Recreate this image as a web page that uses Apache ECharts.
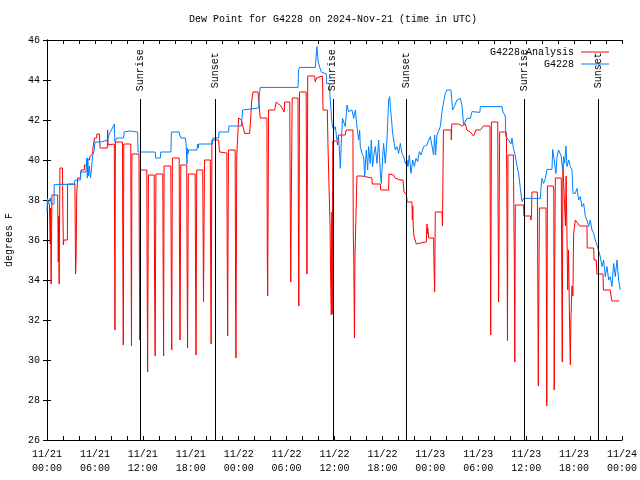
<!DOCTYPE html>
<html><head><meta charset="utf-8">
<script src="https://cdn.jsdelivr.net/npm/echarts@6/dist/echarts.min.js"></script>
<style>html,body{margin:0;padding:0;background:#fff}#c{width:640px;height:480px}</style>
</head><body><div id="c"></div>
<script>
// ---------- data ----------
const titleText = 'Dew Point for G4228 on 2024-Nov-21 (time in UTC)';
const yAxisName = 'degrees F';
// x ticks every 6 hours from 2024-11-21 00:00 UTC (x values are hours since then)
const xTickLabels = ['11/21\n00:00','11/21\n06:00','11/21\n12:00','11/21\n18:00',
  '11/22\n00:00','11/22\n06:00','11/22\n12:00','11/22\n18:00',
  '11/23\n00:00','11/23\n06:00','11/23\n12:00','11/23\n18:00','11/24\n00:00'];
const analysisName = 'G4228 Analysis';
const obsName = 'G4228';
// sun events: [label, hours since 11/21 00:00]
const sunEvents = [['Sunrise',11.68],['Sunset',21.11],['Sunrise',35.79],['Sunset',45.03],['Sunrise',59.80],['Sunset',69.07]];
// analysis dew point [hours, degF]
const analysis = [[0.00,37.9],[0.30,37.8],[0.38,37.8],[0.41,35.8],[0.45,37.6],[0.52,33.8],[0.62,38.25],[1.33,38.25],[1.36,37.2],[1.41,34.9],[1.46,37.2],[1.52,33.8],[1.62,39.6],[1.94,39.6],[1.98,37.7],[2.05,35.75],[2.12,36.0],[2.55,36.0],[2.58,38.8],[3.50,38.8],[3.53,36.8],[3.58,34.3],[3.65,35.2],[3.72,38.25],[3.84,39.1],[4.20,39.1],[4.25,39.5],[4.67,39.5],[4.70,39.75],[5.00,39.75],[5.03,40.0],[5.30,40.0],[5.40,40.2],[5.71,40.3],[5.75,40.6],[5.92,40.6],[5.95,41.1],[6.21,41.1],[6.25,41.3],[6.55,41.3],[6.65,40.6],[7.55,40.6],[7.59,41.5],[7.65,40.75],[8.43,40.8],[8.46,36.25],[8.51,31.5],[8.56,40.9],[9.45,40.9],[9.49,35.8],[9.55,30.75],[9.62,40.8],[10.49,40.8],[10.53,35.5],[10.58,30.7],[10.63,40.3],[11.52,40.3],[11.56,35.3],[11.62,31.0],[11.68,39.5],[12.50,39.5],[12.54,34.3],[12.60,29.4],[12.70,39.25],[13.42,39.25],[13.46,34.75],[13.54,30.2],[13.64,39.3],[14.50,39.3],[14.54,34.9],[14.60,30.2],[14.66,39.7],[15.50,39.7],[15.55,35.3],[15.62,30.5],[15.70,40.1],[16.55,40.1],[16.59,35.3],[16.66,31.0],[16.75,39.75],[17.50,39.75],[17.54,34.9],[17.60,30.6],[17.70,39.3],[18.55,39.3],[18.59,34.9],[18.66,30.25],[18.75,39.5],[19.50,39.5],[19.55,36.1],[19.60,32.9],[19.72,40.0],[20.45,40.0],[20.49,35.3],[20.55,30.8],[20.65,41.0],[21.49,41.0],[21.60,40.4],[21.75,40.35],[22.52,40.35],[22.56,35.75],[22.62,31.2],[22.72,40.5],[23.56,40.5],[23.60,35.2],[23.66,30.1],[23.76,40.2],[23.95,40.2],[24.00,42.1],[24.12,42.1],[24.33,42.0],[24.75,41.33],[25.37,41.33],[25.50,42.0],[25.62,42.9],[25.79,43.4],[26.42,43.4],[26.55,42.8],[26.70,42.1],[27.54,42.1],[27.58,35.5],[27.63,33.2],[27.75,42.5],[28.50,42.5],[28.70,42.9],[28.92,42.9],[29.30,42.7],[29.55,42.6],[29.70,42.4],[29.76,42.9],[30.40,42.9],[30.45,38.4],[30.52,33.9],[30.60,38.5],[30.70,43.1],[31.43,43.1],[31.47,37.8],[31.53,32.7],[31.62,43.4],[32.45,43.4],[32.49,39.25],[32.55,34.3],[32.65,44.2],[33.51,44.2],[33.60,43.9],[33.72,44.1],[33.80,44.2],[34.50,44.2],[34.56,42.5],[35.10,42.5],[35.18,40.8],[35.35,40.8],[35.45,36.6],[35.52,34.0],[35.60,32.25],[35.66,37.4],[35.72,32.3],[35.78,40.95],[36.31,40.95],[36.39,40.75],[36.45,40.95],[36.52,41.25],[37.35,41.25],[37.45,41.5],[38.31,41.5],[38.35,36.3],[38.42,35.0],[38.46,32.8],[38.50,31.1],[38.56,35.1],[38.70,35.1],[38.81,39.2],[39.44,39.2],[39.50,39.1],[40.69,39.1],[40.72,38.8],[41.74,38.8],[41.78,38.5],[42.78,38.5],[42.82,39.3],[43.40,39.25],[43.60,39.1],[44.20,39.0],[44.57,39.0],[44.70,38.4],[44.99,38.3],[45.10,37.9],[45.70,37.9],[45.75,37.0],[45.80,37.7],[45.86,36.6],[45.95,36.2],[46.20,36.2],[46.25,35.8],[46.80,35.85],[47.50,35.9],[47.58,36.8],[47.62,36.3],[47.68,36.6],[47.79,36.1],[48.41,36.1],[48.46,34.75],[48.54,33.4],[48.62,37.4],[49.46,37.4],[49.52,36.7],[49.58,36.7],[49.64,41.5],[50.60,41.5],[50.63,41.0],[50.68,41.8],[51.54,41.8],[51.96,41.7],[52.38,41.8],[52.59,41.5],[53.00,41.4],[53.42,41.2],[53.63,41.2],[53.70,41.5],[54.26,41.5],[54.50,41.6],[54.67,41.7],[55.47,41.7],[55.51,36.5],[55.56,31.25],[55.65,41.9],[56.44,41.9],[56.48,37.6],[56.55,32.9],[56.68,41.4],[57.52,41.4],[57.55,40.25],[57.60,37.0],[57.66,30.97],[57.72,40.25],[58.40,40.25],[58.45,37.75],[58.52,35.0],[58.58,29.9],[58.64,37.75],[59.68,37.75],[59.72,37.2],[60.55,37.2],[60.60,37.0],[60.66,37.2],[60.73,38.4],[61.40,38.4],[61.46,33.7],[61.52,28.7],[61.58,33.2],[61.66,37.6],[62.48,37.6],[62.54,33.25],[62.58,27.7],[62.66,38.7],[63.40,38.7],[63.46,38.5],[63.51,28.5],[63.56,33.8],[63.65,39.1],[64.40,39.1],[64.45,34.5],[64.52,29.9],[64.60,39.8],[64.85,39.8],[64.92,36.7],[65.00,39.2],[65.10,36.5],[65.20,33.5],[65.30,35.5],[65.45,31.5],[65.53,29.75],[65.60,32.0],[65.74,33.7],[65.85,33.2],[65.94,36.3],[66.15,37.0],[66.36,37.0],[66.70,36.7],[67.61,36.7],[67.65,35.6],[68.45,35.6],[68.50,35.0],[68.78,35.0],[68.85,34.3],[69.62,34.3],[69.67,33.5],[70.54,33.5],[70.60,33.25],[70.74,32.95],[71.66,32.95]];
// observed dew point [hours, degF]
const observed = [[0.00,37.4],[0.05,38.1],[0.15,37.8],[0.40,38.1],[0.55,37.8],[0.88,37.8],[0.91,38.78],[3.40,38.78],[3.50,39.0],[4.17,39.0],[4.20,39.4],[4.88,39.4],[4.92,39.7],[5.00,40.1],[5.05,39.1],[5.10,40.1],[5.20,39.2],[5.30,39.7],[5.45,39.1],[5.51,39.3],[5.60,39.7],[5.71,40.2],[5.92,40.5],[6.00,40.9],[6.76,40.9],[7.59,41.0],[7.80,41.3],[8.20,41.6],[8.43,41.8],[8.50,40.9],[8.76,41.1],[9.60,41.1],[9.65,41.4],[10.31,41.45],[11.35,41.4],[11.40,40.4],[13.56,40.4],[13.60,40.1],[14.19,40.1],[14.25,40.4],[15.52,40.4],[15.55,40.9],[15.58,41.4],[16.57,41.4],[16.62,41.25],[16.78,41.1],[17.32,41.1],[17.40,40.9],[17.53,39.8],[17.58,40.6],[17.65,40.3],[17.73,40.5],[18.78,40.5],[18.85,40.8],[18.95,40.6],[19.00,40.8],[20.70,40.8],[20.78,41.1],[21.49,41.1],[21.53,41.4],[22.74,41.4],[22.78,41.7],[24.33,41.7],[24.50,42.5],[24.75,42.6],[26.50,42.6],[26.60,43.3],[26.70,43.63],[31.43,43.63],[31.50,44.5],[31.63,44.63],[33.60,44.63],[33.80,45.67],[33.93,45.0],[34.10,44.7],[34.35,44.4],[34.97,44.3],[35.00,43.83],[35.39,43.83],[35.42,43.33],[35.55,43.3],[35.68,41.83],[35.89,41.5],[36.10,41.67],[36.31,41.0],[36.52,41.17],[36.73,39.58],[36.85,40.83],[37.00,42.08],[37.14,42.17],[37.35,41.67],[37.56,42.75],[37.77,42.42],[37.98,42.33],[38.19,42.5],[38.40,42.08],[38.61,42.5],[38.81,41.67],[39.02,41.0],[39.15,41.5],[39.23,40.67],[39.44,40.33],[39.65,40.17],[39.78,39.17],[39.98,40.5],[40.15,39.5],[40.27,40.67],[40.48,39.83],[40.61,41.0],[40.77,39.67],[40.90,40.17],[41.11,40.67],[41.32,39.83],[41.53,41.0],[41.74,39.33],[41.86,38.83],[42.03,40.17],[42.15,40.83],[42.36,39.83],[42.57,41.0],[42.78,43.0],[42.90,43.17],[42.99,42.67],[43.11,42.17],[43.28,41.33],[43.41,41.0],[43.61,40.5],[43.82,40.67],[44.03,40.33],[44.24,40.83],[44.45,40.33],[44.66,40.17],[44.87,39.83],[45.08,40.0],[45.20,39.67],[45.37,40.25],[45.58,39.33],[45.79,40.0],[46.00,39.67],[46.20,40.08],[46.41,39.92],[46.62,40.42],[46.83,40.25],[47.16,40.67],[47.58,40.75],[47.79,41.0],[48.00,41.17],[48.21,41.25],[48.41,40.25],[48.54,41.25],[48.66,40.25],[48.83,41.25],[49.04,41.25],[49.25,41.67],[49.46,42.42],[49.67,42.92],[49.87,43.33],[50.08,43.5],[50.58,43.5],[50.79,42.5],[51.00,42.67],[51.34,43.0],[51.75,43.08],[51.96,42.75],[52.17,41.75],[52.38,41.83],[52.59,42.08],[53.01,42.08],[53.21,42.42],[54.20,42.38],[54.26,42.67],[56.97,42.67],[57.10,42.4],[57.39,42.2],[57.45,41.17],[57.80,41.0],[58.10,40.8],[58.22,41.1],[58.40,40.6],[58.64,40.2],[58.80,39.8],[59.06,39.3],[59.15,39.0],[59.27,38.58],[59.48,37.92],[59.68,38.08],[61.77,38.08],[61.85,38.58],[61.98,39.08],[62.19,38.83],[62.40,39.08],[62.61,39.53],[63.23,39.53],[63.32,40.53],[63.56,40.53],[63.73,39.33],[63.86,40.17],[64.07,40.5],[64.27,40.53],[64.40,40.17],[64.57,39.5],[64.69,40.17],[64.82,39.83],[64.98,40.7],[65.11,39.67],[65.32,40.0],[65.53,39.67],[65.74,39.5],[65.86,38.33],[66.15,38.33],[66.36,38.58],[66.57,38.0],[66.78,38.17],[66.99,37.67],[67.20,37.83],[67.41,37.17],[67.61,37.0],[67.82,36.67],[68.03,37.0],[68.24,36.5],[68.45,36.33],[68.66,36.0],[68.87,35.75],[69.07,35.67],[69.28,35.17],[69.49,34.67],[69.70,35.0],[69.91,34.17],[70.12,34.67],[70.33,34.0],[70.54,34.17],[70.74,33.67],[70.95,34.83],[71.16,34.17],[71.37,35.0],[71.58,34.0],[71.79,33.5]];

// ---------- chart ----------
const FONT = 'Liberation Mono';
const txt = {fontFamily: FONT, fontSize: 10, color: '#000'};
const blk = {color: '#000', width: 1};
function xAxisCfg(pos, showLabel) {
  return {type: 'value', min: 0, max: 72, interval: 6, position: pos,
    axisLine: {show: true, lineStyle: blk},
    axisTick: {show: true, inside: true, length: 4, lineStyle: blk},
    minorTick: {show: true, splitNumber: 3, length: 4, lineStyle: blk},
    splitLine: {show: false}, minorSplitLine: {show: false},
    axisLabel: {show: showLabel, ...txt, margin: 7, lineHeight: 14,
      formatter: v => xTickLabels[Math.round(v / 6)]}};
}
function yAxisCfg(pos, showLabel) {
  const c = {type: 'value', min: 26, max: 46, interval: 2, position: pos,
    axisLine: {show: true, lineStyle: blk},
    axisTick: {show: true, inside: true, length: 4, lineStyle: blk},
    splitLine: {show: false},
    axisLabel: {show: showLabel, ...txt, margin: 7}};
  if (showLabel) {
    c.name = yAxisName; c.nameLocation = 'middle'; c.nameGap = 33; c.nameRotate = 90;
    c.nameTextStyle = {...txt};
  }
  return c;
}
function legendCfg(name, top) {
  return {data: [name], right: 31, top: top, align: 'right', icon: 'rect',
    itemWidth: 28, itemHeight: 1, itemGap: 0, padding: 0, selectedMode: false,
    textStyle: {...txt, padding: [0, 2, 0, 0]}};
}
const chart = echarts.init(document.getElementById('c'), null, {renderer: 'canvas'});
chart.setOption({
  animation: false,
  backgroundColor: '#fff',
  title: {text: titleText, left: 333, top: 14, textAlign: 'center', padding: 0,
    textStyle: {...txt, fontWeight: 'normal'}},
  legend: [legendCfg(analysisName, 47), legendCfg(obsName, 59)],
  grid: {left: 47, right: 18, top: 40, bottom: 40, containLabel: false, outerBoundsMode: 'none'},
  xAxis: [xAxisCfg('bottom', true), xAxisCfg('top', false)],
  yAxis: [yAxisCfg('left', true), yAxisCfg('right', false)],
  series: [
    {name: analysisName, type: 'line', data: analysis, symbol: 'none', showSymbol: false,
     lineStyle: {color: '#ff0000', width: 1}, itemStyle: {color: '#ff0000'}, z: 2,
     markLine: {symbol: ['none', 'none'], silent: true, animation: false,
       lineStyle: {color: '#000', width: 1, type: 'solid'},
       label: {show: false}, emphasis: {disabled: true},
       data: sunEvents.map(([n, h]) => [{name: n, coord: [h, 26]}, {coord: [h, 43.05]}])},
     markPoint: {symbol: 'rect', symbolSize: 1, silent: true, animation: false,
       itemStyle: {color: 'rgba(0,0,0,0)'},
       label: {show: true, position: 'inside', rotate: 90, formatter: '{b}', offset: [1, 0], ...txt},
       emphasis: {disabled: true},
       data: sunEvents.map(([n, h]) => ({name: n, coord: [h, 44.44]}))}},
    {name: obsName, type: 'line', data: observed, symbol: 'none', showSymbol: false,
     lineStyle: {color: '#0080ff', width: 1}, itemStyle: {color: '#0080ff'}, z: 3}
  ]
});
</script></body></html>
